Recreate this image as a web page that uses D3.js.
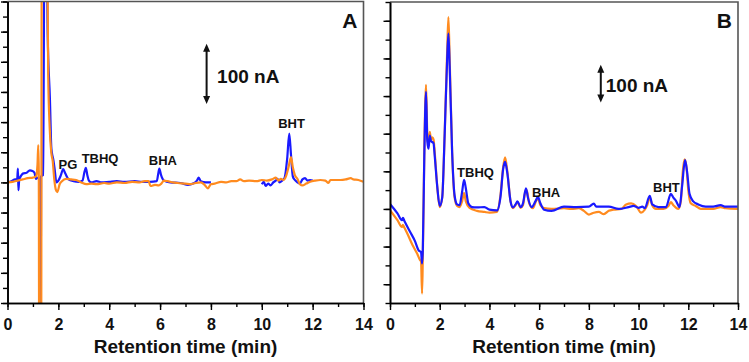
<!DOCTYPE html>
<html>
<head>
<meta charset="utf-8">
<script src="https://cdn.jsdelivr.net/npm/d3@7"></script>
<style>
    body { margin: 0; background: #fff; }
    text { font-family: Arial, "Liberation Sans", sans-serif; font-weight: bold; fill: #111; }
</style>
</head>
<body>
<svg id="svg_chart" width="749" height="362"></svg>
<script>
// chromatograms, [time (min), current (nA)]
let aBlue = [[0,0],[0.15,2],[0.3,5],[0.38,5],[0.41,23],[0.43,-13],[0.46,4],[0.55,12],[0.62,15],[0.75,16],[0.88,20],[0.98,19],[1.06,16],[1.12,6],[1.2,8],[1.25,6],[1.27,-400],[1.3,-400],[1.32,10],[1.4,12],[1.46,450],[1.53,450],[1.58,246],[1.67,136],[1.72,60],[1.75,48],[1.8,38],[1.86,20],[1.92,0],[2.0,3],[2.1,12],[2.19,22],[2.27,15],[2.4,5],[2.6,2],[2.8,1],[2.95,3],[3.03,18],[3.08,24],[3.14,12],[3.2,3],[3.3,0],[3.5,2],[3.7,0],[4.0,1],[4.3,2],[4.6,1],[5.0,2],[5.3,1],[5.6,1],[5.87,2],[5.93,15],[5.97,23],[6.04,12],[6.15,3],[6.4,0],[6.8,-1],[7.1,-4],[7.3,-2],[7.45,3],[7.52,8],[7.6,2],[7.8,0],[8.0,0],[9.0,null],[10.0,-3],[10.08,1],[10.15,-6],[10.25,-2],[10.35,-5],[10.45,0],[10.55,3],[10.62,6],[10.7,0],[10.8,3],[10.9,8],[11.0,40],[11.08,81],[11.15,45],[11.22,10],[11.3,4],[11.4,0],[11.5,-2],[11.6,5],[11.7,7],[11.8,3],[11.9,4],[12.0,3]];
let aOrange = [[0,0],[0.2,1],[0.4,3],[0.6,5],[0.8,7],[1.0,8],[1.12,10],[1.18,30],[1.21,62],[1.23,20],[1.25,-400],[1.32,-400],[1.35,450],[1.55,450],[1.6,180],[1.66,90],[1.72,50],[1.78,35],[1.84,5],[1.9,-12],[1.96,-16],[2.05,-3],[2.14,2],[2.3,6],[2.5,5],[2.7,4],[2.9,0],[3.1,-3],[3.3,-2],[3.5,-3],[3.8,-1],[4.0,-2],[4.3,0],[4.6,-1],[4.9,1],[5.2,0],[5.4,2],[5.55,2],[5.62,-6],[5.8,-4],[5.95,-5],[6.05,-2],[6.15,3],[6.3,2],[6.5,0],[6.7,-1],[7.0,-2],[7.2,-3],[7.4,-1],[7.6,0],[7.75,-4],[7.88,-10],[8.0,-3],[8.15,-2],[8.4,1],[8.6,0],[8.8,2],[9.0,2],[9.15,5],[9.3,2],[9.5,3],[9.8,2],[10.0,4],[10.2,3],[10.4,5],[10.55,8],[10.65,3],[10.75,6],[10.85,4],[10.95,10],[11.05,25],[11.15,42],[11.22,25],[11.3,12],[11.4,6],[11.5,-3],[11.6,-5],[11.75,-2],[11.9,1],[12.1,3],[12.3,4],[12.5,3],[12.62,-1],[12.7,4],[12.9,4],[13.1,4],[13.3,5],[13.5,7],[13.6,5],[13.8,4],[14,1]];
let bOrange = [[0,-3],[0.3,-30],[0.48,-48],[0.52,-42],[0.58,-50],[0.7,-66],[0.9,-95],[1.1,-120],[1.2,-135],[1.25,-140],[1.29,-225],[1.32,-130],[1.38,150],[1.45,330],[1.5,200],[1.55,170],[1.6,205],[1.65,185],[1.7,190],[1.75,185],[1.8,150],[1.9,60],[2.0,5],[2.1,30],[2.2,200],[2.3,420],[2.35,510],[2.4,400],[2.5,150],[2.6,30],[2.7,8],[2.8,5],[2.9,20],[2.98,42],[3.05,20],[3.2,3],[3.5,-5],[3.8,-8],[4.0,-10],[4.3,-8],[4.45,40],[4.55,110],[4.63,137],[4.72,100],[4.85,20],[4.95,2],[5.05,10],[5.13,18],[5.25,3],[5.35,10],[5.45,48],[5.5,50],[5.6,15],[5.75,2],[5.88,22],[5.95,28],[6.05,10],[6.2,2],[6.5,0],[7.0,2],[7.3,0],[7.6,2],[7.8,-5],[8.0,-15],[8.2,-10],[8.4,-8],[8.6,-14],[8.8,-5],[9.0,-2],[9.3,0],[9.5,12],[9.7,15],[9.9,8],[10.1,-10],[10.25,-2],[10.35,10],[10.45,30],[10.55,10],[10.7,0],[11.0,0],[11.2,8],[11.3,18],[11.4,10],[11.6,0],[11.7,20],[11.78,100],[11.85,132],[11.92,115],[12.0,50],[12.1,15],[12.3,8],[12.5,0],[13.0,0],[13.3,5],[13.5,2],[14,0]];
let bBlue = [[0,13],[0.3,-12],[0.48,-30],[0.52,-24],[0.58,-32],[0.8,-60],[1.0,-85],[1.15,-110],[1.25,-115],[1.29,-145],[1.32,-110],[1.38,140],[1.45,311],[1.5,180],[1.55,160],[1.6,195],[1.65,180],[1.75,175],[1.8,140],[1.9,60],[2.0,8],[2.1,30],[2.2,200],[2.3,400],[2.35,466],[2.4,380],[2.5,150],[2.6,35],[2.7,12],[2.8,10],[2.9,45],[2.98,77],[3.05,55],[3.15,15],[3.3,5],[3.5,4],[3.8,5],[4.0,-2],[4.3,-4],[4.45,35],[4.55,105],[4.63,125],[4.72,95],[4.85,20],[4.95,4],[5.05,12],[5.13,20],[5.25,5],[5.35,15],[5.47,55],[5.55,30],[5.7,5],[5.85,20],[5.95,32],[6.05,15],[6.2,-2],[6.5,-5],[7.0,6],[7.5,5],[8.0,6],[8.2,14],[8.3,6],[8.8,6],[9.2,0],[9.6,5],[9.8,8],[10.0,3],[10.15,6],[10.25,2],[10.45,35],[10.55,12],[10.8,5],[11.1,5],[11.3,40],[11.4,30],[11.5,22],[11.65,5],[11.75,60],[11.87,130],[11.95,100],[12.05,40],[12.2,20],[12.4,12],[12.7,6],[13.0,6],[13.3,10],[13.5,6],[14,6]];

// peak labels: [text, time, current at baseline of text]
let aPeaks = [["PG", 2.38, 23], ["TBHQ", 3.64, 32], ["BHA", 6.11, 29], ["BHT", 11.17, 90]];
let bPeaks = [["TBHQ", 3.44, 85], ["BHA", 6.28, 32], ["BHT", 11.12, 45]];

let timeTicks = d3.range(0, 15, 1);
let timeLabels = d3.range(0, 15, 2);

let blue = "#1a1aff";
let orange = "#ff8b1f";

let svg = d3.select("#svg_chart");

function drawPanel(opt) {
    let x = d3.scaleLinear().domain([0, 14]).range([opt.left, opt.right]);
    let y = d3.scaleLinear().domain(opt.yDomain).range([opt.bottom, opt.top]);
    let g = svg.append("g");

    g.append("clipPath").attr("id", "clip" + opt.name)
        .append("rect")
        .attr("x", opt.left).attr("y", opt.top)
        .attr("width", opt.right - opt.left).attr("height", opt.bottom - opt.top);

    let line = d3.line()
        .defined(d => d[1] !== null)
        .curve(d3.curveMonotoneX)
        .x(d => x(d[0]))
        .y(d => y(d[1]));

    let traces = g.append("g").attr("clip-path", "url(#clip" + opt.name + ")");
    opt.series.forEach(function (s) {
        traces.append("path")
            .attr("d", line(s.data))
            .attr("fill", "none")
            .attr("stroke", s.color)
            .attr("stroke-width", 2.2)
            .attr("stroke-linejoin", "round");
    });

    // top / right frame
    g.append("path")
        .attr("d", "M" + opt.left + "," + opt.top + "H" + opt.right + "V" + opt.bottom)
        .attr("fill", "none")
        .attr("stroke", "#555")
        .attr("stroke-width", 1.6);

    // minor ticks
    g.append("g")
        .attr("transform", "translate(0," + opt.bottom + ")")
        .call(d3.axisBottom(x).tickValues(timeTicks).tickSize(4).tickFormat("").tickSizeOuter(0));
    g.append("g")
        .attr("transform", "translate(" + opt.left + ",0)")
        .call(d3.axisLeft(y).tickValues(d3.range(opt.yDomain[0], opt.yDomain[1] + 1, opt.yStep)).tickSize(4.5).tickFormat("").tickSizeOuter(0));
    // major ticks
    let xAxis = g.append("g")
        .attr("transform", "translate(0," + opt.bottom + ")")
        .call(d3.axisBottom(x).tickValues(timeLabels).tickSize(7).tickPadding(8.5).tickSizeOuter(0));
    g.append("g")
        .attr("transform", "translate(" + opt.left + ",0)")
        .call(d3.axisLeft(y).tickValues(d3.range(opt.yMajorStart, opt.yDomain[1] + 1, opt.yStep * 2)).tickSize(6.5).tickFormat("").tickSizeOuter(0));

    g.selectAll(".domain").attr("stroke", "#000").attr("stroke-width", 1.6);
    g.selectAll(".tick line").attr("stroke", "#000").attr("stroke-width", 1.4);
    xAxis.selectAll("text")
        .attr("font-size", 16)
        .attr("font-family", "Arial, 'Liberation Sans', sans-serif")
        .attr("font-weight", "bold")
        .attr("fill", "#111");

    g.append("text")
        .attr("x", (opt.left + opt.right) / 2)
        .attr("y", 353)
        .attr("text-anchor", "middle")
        .attr("font-size", 19)
        .text("Retention time (min)");

    g.append("text")
        .attr("x", opt.right - 6)
        .attr("y", 28)
        .attr("text-anchor", "end")
        .attr("font-size", 21)
        .text(opt.name);

    g.selectAll(".peak")
        .data(opt.peaks)
        .enter().append("text")
        .attr("x", d => x(d[1]))
        .attr("y", d => y(d[2]))
        .attr("text-anchor", "middle")
        .attr("font-size", 13)
        .text(d => d[0]);

    // 100 nA scale bar
    let bx = x(opt.bar[0]);
    let y0 = y(opt.bar[1]);
    let y1 = y(opt.bar[1] + 100);
    g.append("line")
        .attr("x1", bx).attr("x2", bx)
        .attr("y1", y1 + 6).attr("y2", y0 - 6)
        .attr("stroke", "#111").attr("stroke-width", 2);
    g.append("path")
        .attr("d", "M" + bx + "," + y1 + "l-3.5,8h7z M" + bx + "," + y0 + "l-3.5,-8h7z")
        .attr("fill", "#111");
    g.append("text")
        .attr("x", bx + opt.barGap)
        .attr("y", opt.barText)
        .attr("font-size", 19)
        .text("100 nA");
}

drawPanel({
    name: "A", left: 7.5, right: 363.5, top: 1.5, bottom: 303,
    yDomain: [-200, 300], yStep: 25, yMajorStart: -200,
    series: [{data: aBlue, color: blue}, {data: aOrange, color: orange}],
    peaks: aPeaks, bar: [7.83, 130], barGap: 10.5, barText: 83
});

drawPanel({
    name: "B", left: 390, right: 738, top: 2, bottom: 303,
    yDomain: [-250, 550], yStep: 50, yMajorStart: -200,
    series: [{data: bOrange, color: orange}, {data: bBlue, color: blue}],
    peaks: bPeaks, bar: [8.48, 283], barGap: 5, barText: 92
});
</script>
</body>
</html>
